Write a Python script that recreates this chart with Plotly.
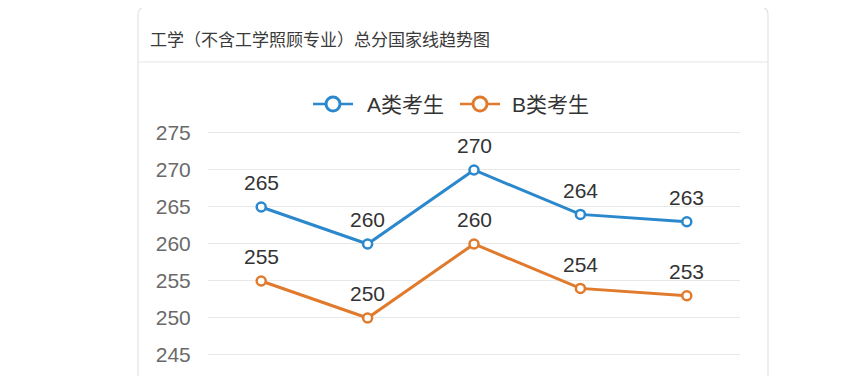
import plotly.graph_objects as go

categories = ["2016", "2017", "2018", "2019", "2020"]
series_a = [265, 260, 270, 264, 263]
series_b = [255, 250, 260, 254, 253]
name_a = "A类考生"
name_b = "B类考生"
title_text = "工学（不含工学照顾专业）总分国家线趋势图"
y_ticks = [245, 250, 255, 260, 265, 270, 275]

color_a = "#2b88cc"
color_b = "#e07a2c"
FONT = "Liberation Sans, Arial, Noto Sans CJK SC, sans-serif"

OFF = 8  # default page body margin
W, H = 865 - OFF, 376 - OFF
ML = 208 - OFF
MR = W - (740 - OFF)
MT = 120 - OFF
MB = 0
pw, ph = W - ML - MR, H - MT - MB

def px_x(x):
    return (x - OFF - ML) / pw

def px_y(y):
    return (H - (y - OFF)) / ph

fig = go.Figure()
for name, vals, col in [(name_a, series_a, color_a), (name_b, series_b, color_b)]:
    fig.add_trace(go.Scatter(
        x=categories, y=vals, name=name, mode="lines+markers",
        line=dict(color=col, width=3),
        marker=dict(size=9, color="white", line=dict(color=col, width=2.5)),
        cliponaxis=False, showlegend=False,
    ))
    for i, v in enumerate(vals):
        fig.add_annotation(x=i, y=v, xref="x", yref="y", text=str(v), showarrow=False, yshift=24,
                           font=dict(size=21, color="#333333", family=FONT))

# card
x0, x1 = px_x(138), px_x(768)
y0, y1 = px_y(420), px_y(7)
rx, ry = 8 / pw, 8 / ph
path = (f"M {x0},{y0} L {x0},{y1-ry} Q {x0},{y1} {x0+rx},{y1} "
        f"L {x1-rx},{y1} Q {x1},{y1} {x1},{y1-ry} L {x1},{y0}")
fig.add_shape(type="path", path=path, xref="paper", yref="paper",
              line=dict(color="#e3e3e3", width=1.2), layer="below")
fig.add_shape(type="line", xref="paper", yref="paper", x0=x0, x1=x1,
              y0=px_y(62), y1=px_y(62), line=dict(color="#e6e6e6", width=1.2))
fig.add_annotation(xref="paper", yref="paper", x=px_x(148), y=px_y(38),
                   xanchor="left", yanchor="middle", showarrow=False,
                   text=title_text, font=dict(size=17, color="#3a3a3a", family="Noto Sans CJK SC"))

# legend (drawn manually to match the icon style)
LY = 104
for name, col, ix, tx in [(name_a, color_a, 313, 365), (name_b, color_b, 460, 510)]:
    fig.add_shape(type="line", xref="paper", yref="paper",
                  x0=px_x(ix), x1=px_x(ix + 40), y0=px_y(LY), y1=px_y(LY),
                  line=dict(color=col, width=2.5))
    cx, r = ix + 20, 7
    fig.add_shape(type="circle", xref="paper", yref="paper",
                  x0=px_x(cx - r), x1=px_x(cx + r), y0=px_y(LY + r), y1=px_y(LY - r),
                  line=dict(color=col, width=3), fillcolor="white")
    fig.add_annotation(xref="paper", yref="paper", x=px_x(tx), y=px_y(LY),
                       xanchor="left", yanchor="middle", showarrow=False, text=name,
                       font=dict(size=21, color="#333333", family=FONT))

fig.update_layout(
    width=W, height=H,
    margin=dict(l=ML, r=MR, t=MT, b=MB),
    paper_bgcolor="white", plot_bgcolor="white",
    font=dict(family=FONT, color="#333333"),
    showlegend=False,
    xaxis=dict(type="category", range=[-0.5, 4.5], showgrid=False, zeroline=False,
               showline=False, showticklabels=False, ticks=""),
    yaxis=dict(range=[242.16, 242.16 + ph / 7.4], tickvals=y_ticks, showgrid=True,
               gridcolor="#e8e8e8", gridwidth=1, zeroline=False, showline=False,
               ticks="outside", ticklen=12, tickcolor="rgba(0,0,0,0)",
               tickfont=dict(size=21, color="#6a6a6a", family=FONT)),
)
fig.write_html("out.html")
